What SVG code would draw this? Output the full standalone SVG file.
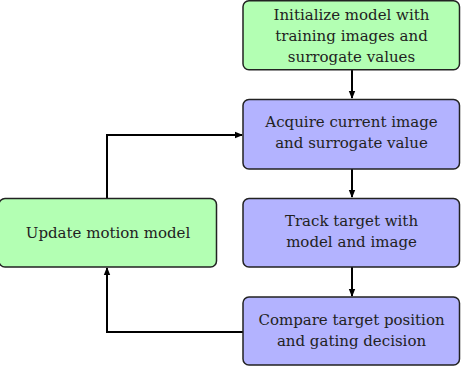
<svg xmlns="http://www.w3.org/2000/svg" width="461" height="366" viewBox="0 0 461 366">
<defs>
<marker id="ah" markerWidth="8" markerHeight="8" viewBox="0 0 8 8" refX="7" refY="4" orient="auto" markerUnits="userSpaceOnUse">
<path d="M0,0.8 L8,4 L0,7.2 Z" fill="#000"/>
</marker>
</defs>
<style>
.box{stroke:#222;stroke-width:1.5}
.g{fill:#b3ffb3}
.b{fill:#b3b3ff}
text{font-family:'DejaVu Serif',serif;font-size:15px;fill:#222;text-anchor:middle}
.c{fill:none;stroke:#000;stroke-width:2;marker-end:url(#ah)}
</style>
<g id="connectors">
<path class="c" d="M352,70 V98"/>
<path class="c" d="M352,169 V197"/>
<path class="c" d="M352,267 V296"/>
<path class="c" d="M107,198 V135 H242"/>
<path class="c" d="M243,332 H107 V268"/>
</g>
<g id="n1">
<rect class="box g" x="243" y="0.75" width="216.5" height="69" rx="6"/>
<text x="351.5" y="20">Initialize model with</text>
<text x="351.5" y="41">training images and</text>
<text x="351.5" y="62">surrogate values</text>
</g>
<g id="n2">
<rect class="box b" x="243" y="99.5" width="216.5" height="69.5" rx="6"/>
<text x="351.5" y="127">Acquire current image</text>
<text x="351.5" y="148">and surrogate value</text>
</g>
<g id="n3">
<rect class="box b" x="243" y="198.5" width="216.5" height="68.5" rx="6"/>
<text x="351.5" y="226">Track target with</text>
<text x="351.5" y="247">model and image</text>
</g>
<g id="n4">
<rect class="box b" x="243" y="297" width="216.5" height="68" rx="6"/>
<text x="351.5" y="325">Compare target position</text>
<text x="351.5" y="346">and gating decision</text>
</g>
<g id="n5">
<rect class="box g" x="-1" y="198.5" width="217.5" height="68.5" rx="6"/>
<text x="108" y="238">Update motion model</text>
</g>
</svg>
